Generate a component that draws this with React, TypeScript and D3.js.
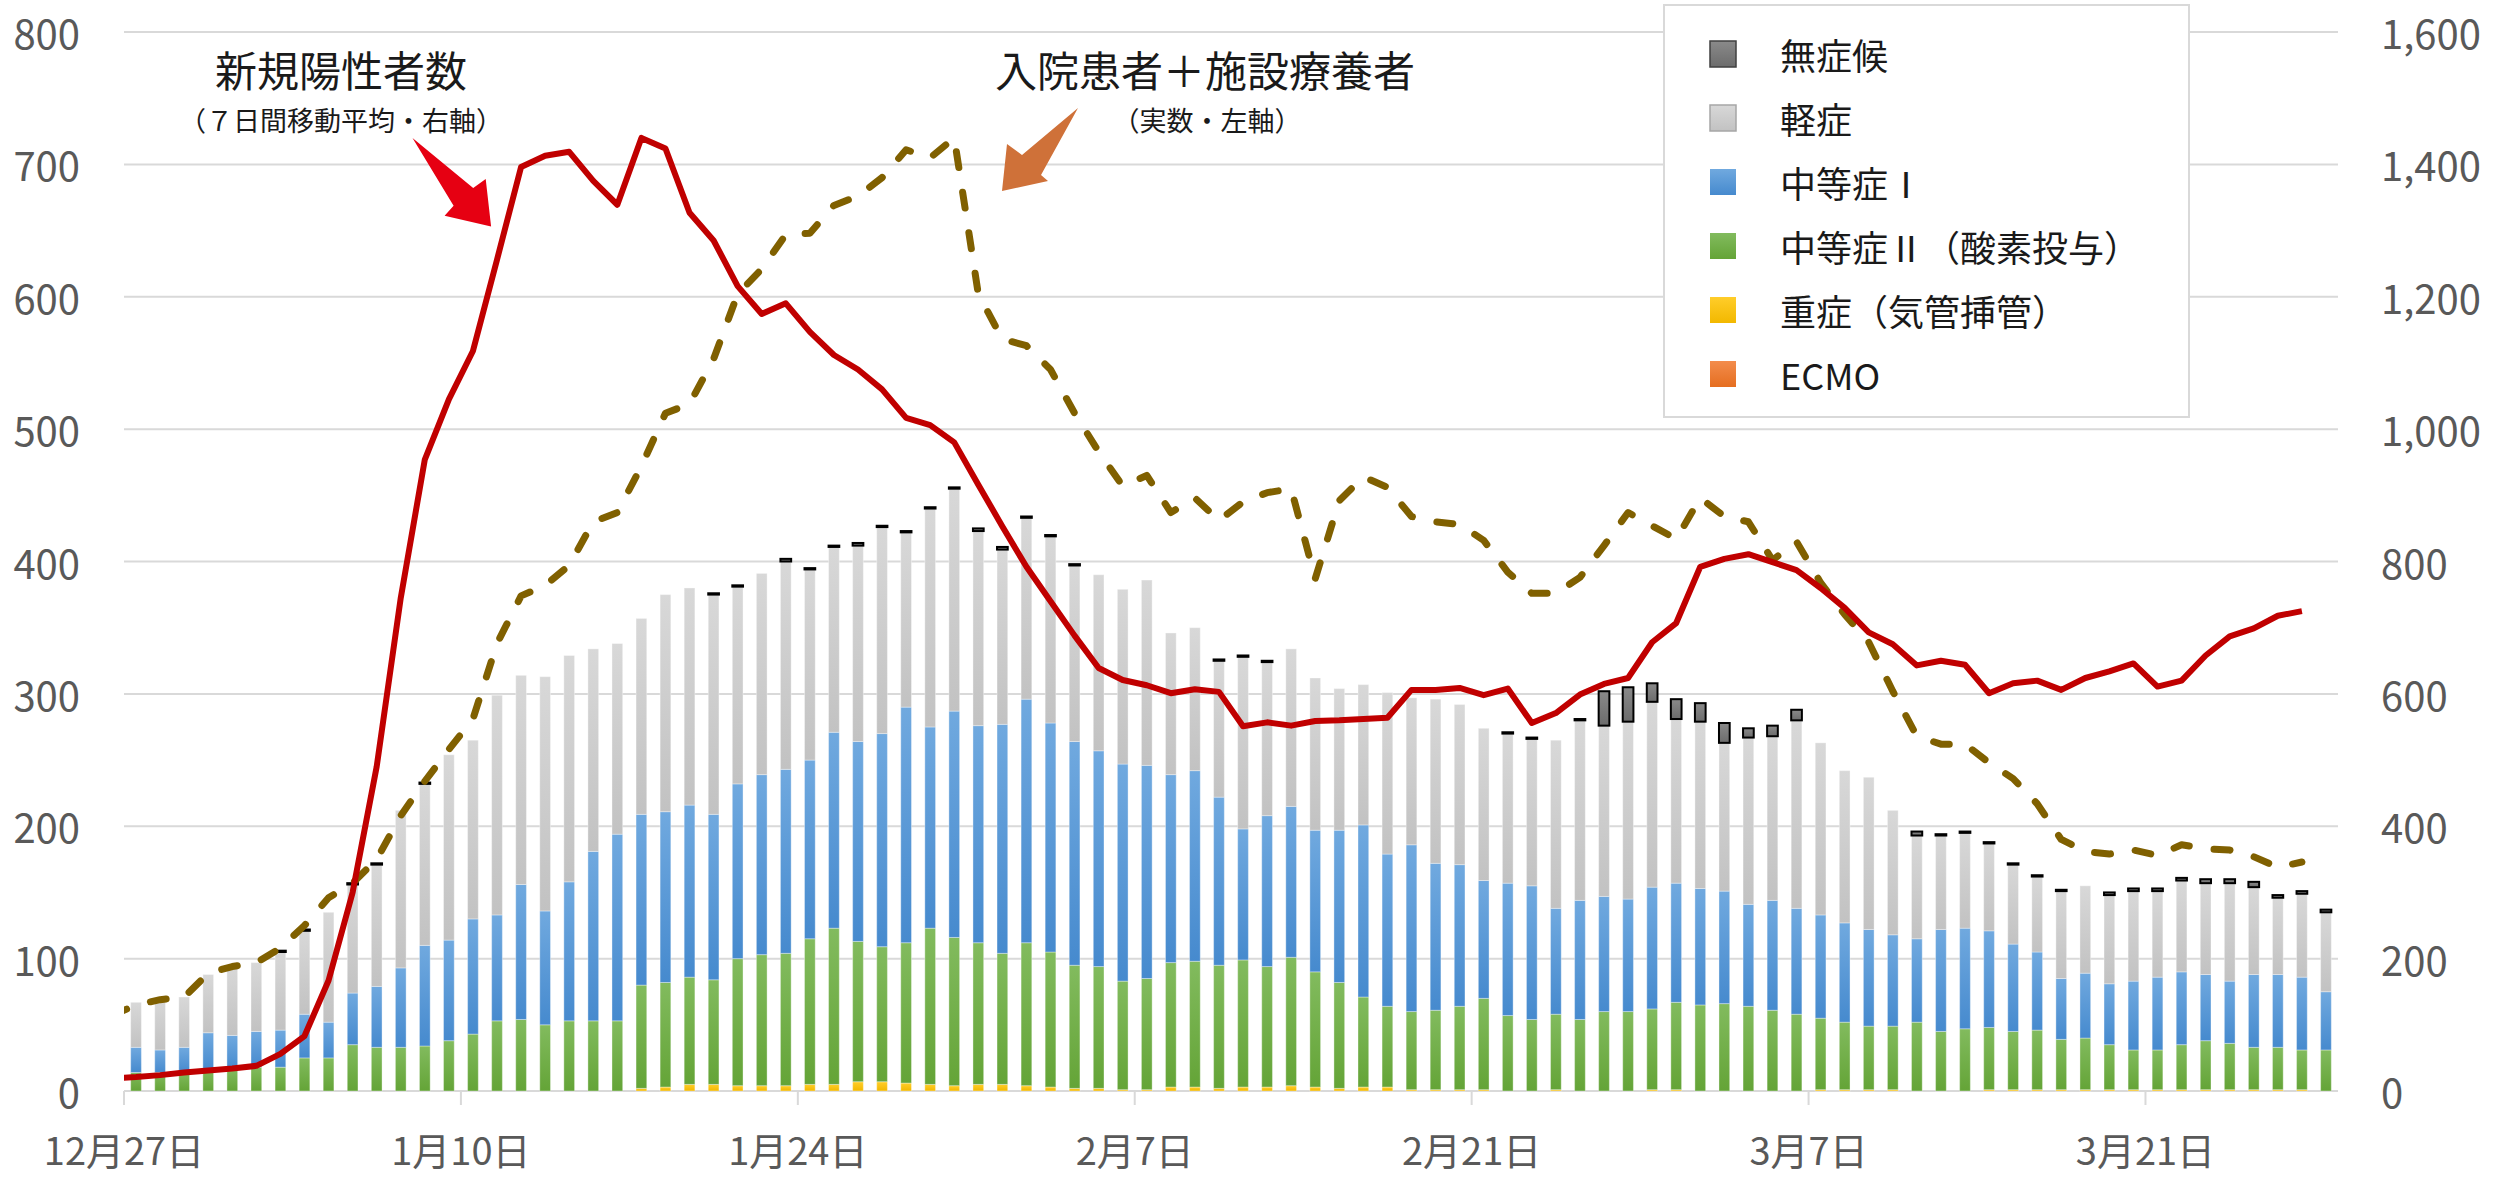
import React from 'react';
import * as d3 from 'd3';

const W = 2494;
const H = 1177;

// categories: one bar per day, 12/27 .. 3/28
const barStart = new Date(Date.UTC(2020, 11, 27));
const barEnd = new Date(Date.UTC(2021, 2, 29));
const barDays = d3.utcDay.range(barStart, barEnd);
// line series run one day earlier: 12/26 .. 3/27
const lineDays = d3.utcDay.range(new Date(Date.UTC(2020, 11, 26)), new Date(Date.UTC(2021, 2, 28)));

const tickDates = ['2020-12-27', '2021-01-10', '2021-01-24', '2021-02-07', '2021-02-21', '2021-03-07', '2021-03-21'];
const tickLabels = ['12月27日', '1月10日', '1月24日', '2月7日', '2月21日', '3月7日', '3月21日'];
const leftTicks = [0, 100, 200, 300, 400, 500, 600, 700, 800];
const rightTicks = [0, 200, 400, 600, 800, 1000, 1200, 1400, 1600];

// 無症候
const asymptomatic = [
  0, 0, 0, 0, 0, 0, 1, 1, 0, 1,
  1, 0, 1, 0, 0, 0, 0, 0, 0, 0,
  0, 0, 0, 0, 1, 1, 0, 2, 1, 1,
  2, 1, 1, 1, 1, 2, 2, 1, 1, 1,
  0, 0, 0, 0, 0, 1, 1, 1, 0, 0,
  0, 0, 0, 0, 0, 0, 0, 1, 1, 0,
  1, 26, 26, 14, 15, 14, 15, 7, 8, 8,
  0, 0, 0, 0, 3, 1, 1, 1, 1, 1,
  1, 0, 2, 2, 2, 2, 3, 3, 4, 2,
  2, 2,
];
// 軽症
const mild = [
  34, 38, 38, 44, 52, 52, 59, 63, 83, 82,
  92, 119, 122, 140, 135, 166, 158, 177, 171, 153,
  144, 148, 164, 164, 166, 149, 152, 157, 144, 140,
  148, 156, 132, 165, 168, 147, 132, 137, 141, 133,
  133, 132, 140, 107, 108, 103, 130, 116, 119, 115,
  107, 106, 122, 111, 124, 121, 115, 113, 111, 127,
  136, 129, 134, 140, 124, 126, 112, 126, 124, 142,
  130, 115, 115, 94, 78, 71, 72, 66, 60, 57,
  66, 66, 67, 68, 65, 69, 69, 74, 66, 58,
  63, 60,
];
// 中等症Ⅰ
const moderate1 = [
  19, 17, 19, 28, 26, 27, 28, 33, 27, 39,
  46, 60, 76, 76, 87, 80, 102, 86, 105, 128,
  141, 129, 129, 130, 125, 132, 136, 139, 135, 148,
  151, 161, 178, 152, 171, 164, 173, 184, 173, 169,
  163, 164, 161, 142, 144, 127, 99, 114, 114, 107,
  115, 130, 115, 126, 111, 107, 89, 100, 101, 80,
  90, 87, 85, 92, 90, 88, 85, 77, 83, 80,
  78, 75, 73, 69, 63, 77, 76, 73, 66, 59,
  46, 49, 46, 52, 55, 55, 50, 47, 55, 55,
  55, 44,
];
// 中等症Ⅱ（酸素投与）
const moderate2 = [
  14, 14, 14, 16, 16, 18, 18, 25, 25, 35,
  33, 33, 34, 38, 43, 53, 54, 50, 53, 53,
  53, 78, 79, 81, 79, 96, 99, 100, 110, 118,
  106, 102, 106, 118, 112, 107, 99, 108, 102, 93,
  92, 82, 84, 94, 95, 93, 96, 91, 97, 87,
  80, 68, 61, 59, 60, 63, 69, 57, 54, 57,
  54, 60, 60, 61, 66, 65, 66, 64, 61, 58,
  54, 51, 48, 48, 52, 45, 47, 47, 44, 45,
  38, 39, 34, 30, 30, 34, 37, 35, 32, 32,
  30, 31,
];
// 重症（気管挿管）
const severe = [
  0, 0, 0, 0, 0, 0, 0, 0, 0, 0,
  0, 0, 0, 0, 0, 0, 0, 0, 0, 0,
  0, 2, 3, 5, 5, 4, 4, 4, 5, 5,
  7, 7, 6, 5, 4, 5, 5, 4, 3, 2,
  2, 1, 1, 3, 3, 2, 3, 3, 4, 3,
  2, 3, 3, 1, 1, 1, 1, 0, 0, 1,
  0, 0, 0, 1, 1, 0, 0, 0, 0, 0,
  1, 1, 1, 1, 0, 0, 0, 1, 1, 1,
  1, 1, 1, 1, 1, 1, 1, 1, 1, 1,
  1, 0,
];
// ECMO
const ecmo = [
  0, 0, 0, 0, 0, 0, 0, 0, 0, 0,
  0, 0, 0, 0, 0, 0, 0, 0, 0, 0,
  0, 0, 0, 0, 0, 0, 0, 0, 0, 0,
  0, 0, 0, 0, 0, 0, 0, 0, 0, 0,
  0, 0, 0, 0, 0, 0, 0, 0, 0, 0,
  0, 0, 0, 0, 0, 0, 0, 0, 0, 0,
  0, 0, 0, 0, 0, 0, 0, 0, 0, 0,
  0, 0, 0, 0, 0, 0, 0, 0, 0, 0,
  0, 0, 0, 0, 0, 0, 0, 0, 0, 0,
  0, 0,
];
// 新規陽性者数（7日間移動平均・右軸）, 12/26 .. 3/27
const newPositives = [
  19,
  21, 24, 28, 31, 34, 38, 56, 83, 167, 300,
  490, 745, 954, 1045, 1118, 1256, 1396, 1413, 1419, 1375,
  1339, 1440, 1424, 1327, 1285, 1216, 1174, 1190, 1147, 1112,
  1090, 1060, 1017, 1006, 980, 916, 853, 792, 740, 688,
  639, 621, 613, 601, 607, 603, 551, 557, 552, 559,
  560, 562, 564, 606, 606, 609, 598, 608, 556, 571,
  599, 615, 624, 678, 707, 792, 804, 811, 799, 787,
  760, 730, 693, 675, 643, 650, 644, 601, 616, 620,
  606, 624, 634, 646, 611, 620, 658, 687, 699, 718,
  725,
];
// 入院患者＋施設療養者（実数・左軸）, 12/26 .. 3/27
const inpatients = [
  57,
  65, 69, 71, 89, 94, 97, 108, 125, 146, 157,
  175, 208, 234, 258, 281, 338, 374, 382, 397, 430,
  437, 472, 512, 519, 553, 602, 621, 647, 648, 669,
  676, 690, 711, 705, 720, 602, 568, 563, 545, 512,
  483, 457, 465, 437, 448, 431, 445, 452, 455, 387,
  446, 464, 456, 434, 430, 428, 416, 392, 376, 376,
  388, 412, 437, 427, 417, 448, 434, 430, 401, 415,
  384, 360, 339, 302, 268, 262, 262, 248, 236, 217,
  190, 181, 179, 182, 178, 186, 183, 182, 177, 169,
  173,
];

const seriesKeys = ['ecmo', 'severe', 'moderate2', 'moderate1', 'mild', 'asymptomatic'];
const seriesValues: Record<string, number[]> = { ecmo, severe, moderate2, moderate1, mild, asymptomatic };

const gradients: Record<string, [string, string]> = {
  asymptomatic: ['#8a8a8a', '#6c6c6c'],
  mild: ['#d8d8d8', '#c2c2c2'],
  moderate1: ['#70a9df', '#468ace'],
  moderate2: ['#82bb5e', '#64a437'],
  severe: ['#ffcd2a', '#f2b800'],
  ecmo: ['#f38c4c', '#e56e20'],
};

const legendItems = [
  { key: 'asymptomatic', label: '無症候' },
  { key: 'mild', label: '軽症' },
  { key: 'moderate1', label: '中等症Ⅰ' },
  { key: 'moderate2', label: '中等症Ⅱ（酸素投与）' },
  { key: 'severe', label: '重症（気管挿管）' },
  { key: 'ecmo', label: 'ECMO' },
];

const FONT = "'Noto Sans CJK JP', 'Noto Sans', sans-serif";

export default function App() {
  const margin = { left: 124, right: 2338, top: 32, bottom: 1091 };

  const x = d3.scaleUtc().domain([barStart, barEnd]).range([margin.left, margin.right]);
  const yL = d3.scaleLinear().domain([0, 800]).range([margin.bottom, margin.top]);
  const yR = d3.scaleLinear().domain([0, 1600]).range([margin.bottom, margin.top]);

  const table = barDays.map((d, i) => {
    const row: any = { date: d };
    seriesKeys.forEach((k) => (row[k] = seriesValues[k][i]));
    return row;
  });
  const stacked = d3.stack<any>().keys(seriesKeys)(table);

  const step = x(d3.utcDay.offset(barStart, 1)) - x(barStart);
  const bw = step * 0.445;
  const mid = (d: Date) => x(d3.utcHour.offset(d, 12));

  const redLine = d3
    .line<number>()
    .x((_, i) => mid(lineDays[i]))
    .y((v) => yR(v));
  const dashLine = d3
    .line<number>()
    .x((_, i) => mid(lineDays[i]))
    .y((v) => yL(v));

  const parse = d3.utcParse('%Y-%m-%d');

  return (
    <div style={{ position: 'fixed', left: 0, top: 0 }}>
      <svg width={W} height={H} style={{ display: 'block', background: '#fff' }} fontFamily={FONT}>
        <defs>
          {Object.entries(gradients).map(([k, [c0, c1]]) => (
            <linearGradient key={k} id={`g-${k}`} x1="0" y1="0" x2="0" y2="1">
              <stop offset="0%" stopColor={c0} />
              <stop offset="100%" stopColor={c1} />
            </linearGradient>
          ))}
          <clipPath id="plot-clip">
            <rect x={margin.left} y={0} width={margin.right - margin.left} height={H} />
          </clipPath>
        </defs>

        {/* gridlines */}
        {leftTicks.map((t) => (
          <line key={t} x1={margin.left} x2={margin.right} y1={yL(t)} y2={yL(t)} stroke="#d9d9d9" strokeWidth={2} />
        ))}

        {/* x-axis ticks and labels */}
        {tickDates.map((s, i) => {
          const tx = x(parse(s) as Date);
          return (
            <g key={s}>
              <line x1={tx} x2={tx} y1={margin.bottom} y2={margin.bottom + 14} stroke="#d9d9d9" strokeWidth={2} />
              <text x={tx} y={1148} textAnchor="middle" dominantBaseline="central" fontSize={38} fill="#595959">
                {tickLabels[i]}
              </text>
            </g>
          );
        })}

        {/* left axis labels */}
        {leftTicks.map((t) => (
          <text key={t} x={80} y={yL(t)} textAnchor="end" dominantBaseline="central" fontSize={40} fill="#595959">
            {t}
          </text>
        ))}
        {/* right axis labels */}
        {rightTicks.map((t) => (
          <text key={t} x={2381} y={yR(t)} textAnchor="start" dominantBaseline="central" fontSize={40} fill="#595959">
            {d3.format(',')(t)}
          </text>
        ))}

        {/* stacked bars */}
        {stacked.map((layer) => (
          <g key={layer.key}>
            {layer.map((seg, i) => {
              const h = yL(seg[0]) - yL(seg[1]);
              if (h <= 0) return null;
              const isAsym = layer.key === 'asymptomatic';
              return (
                <rect
                  key={i}
                  x={x(barDays[i]) + (step - bw) / 2}
                  y={yL(seg[1])}
                  width={bw}
                  height={h}
                  fill={`url(#g-${layer.key})`}
                  stroke={isAsym ? '#000' : '#ffffff'}
                  strokeOpacity={isAsym ? 1 : 0.35}
                  strokeWidth={isAsym ? 2 : 1}
                />
              );
            })}
          </g>
        ))}

        {/* lines */}
        <g clipPath="url(#plot-clip)">
          <path
            d={dashLine(inpatients) || ''}
            fill="none"
            stroke="#806000"
            strokeWidth={7}
            strokeDasharray="16 25"
            strokeLinecap="round"
            strokeLinejoin="round"
          />
          <path d={redLine(newPositives) || ''} fill="none" stroke="#c00000" strokeWidth={6} strokeLinejoin="round" />
        </g>

        {/* annotations */}
        <text x={341} y={68} textAnchor="middle" dominantBaseline="central" fontSize={42} fill="#1a1a1a">
          新規陽性者数
        </text>
        <text x={341} y={119} textAnchor="middle" dominantBaseline="central" fontSize={27} fill="#1a1a1a">
          （７日間移動平均・右軸）
        </text>
        <polygon
          points="412.5,137.9 473.2,187.9 485.7,178.9 491.1,226.4 444.6,215.7 453.6,205.7"
          fill="#e60012"
        />
        <text x={1205} y={68} textAnchor="middle" dominantBaseline="central" fontSize={42} fill="#1a1a1a">
          入院患者＋施設療養者
        </text>
        <text x={1207} y={119} textAnchor="middle" dominantBaseline="central" fontSize={27} fill="#1a1a1a">
          （実数・左軸）
        </text>
        <polygon points="1078,108 1041,175 1048,181 1002,191 1007,144 1022,155" fill="#cf7139" />

        {/* legend */}
        <rect x={1664} y={5} width={525} height={412} fill="#fff" stroke="#d9d9d9" strokeWidth={2} />
        {legendItems.map((item, i) => {
          const cy = 54 + i * 64;
          return (
            <g key={item.key}>
              <rect
                x={1710}
                y={cy - 13}
                width={26}
                height={26}
                fill={`url(#g-${item.key})`}
                stroke={item.key === 'mild' ? '#a6a6a6' : item.key === 'asymptomatic' ? '#404040' : 'none'}
                strokeWidth={1.5}
              />
              <text x={1780} y={cy} dominantBaseline="central" fontSize={36} fill="#1a1a1a">
                {item.label}
              </text>
            </g>
          );
        })}
      </svg>
    </div>
  );
}
